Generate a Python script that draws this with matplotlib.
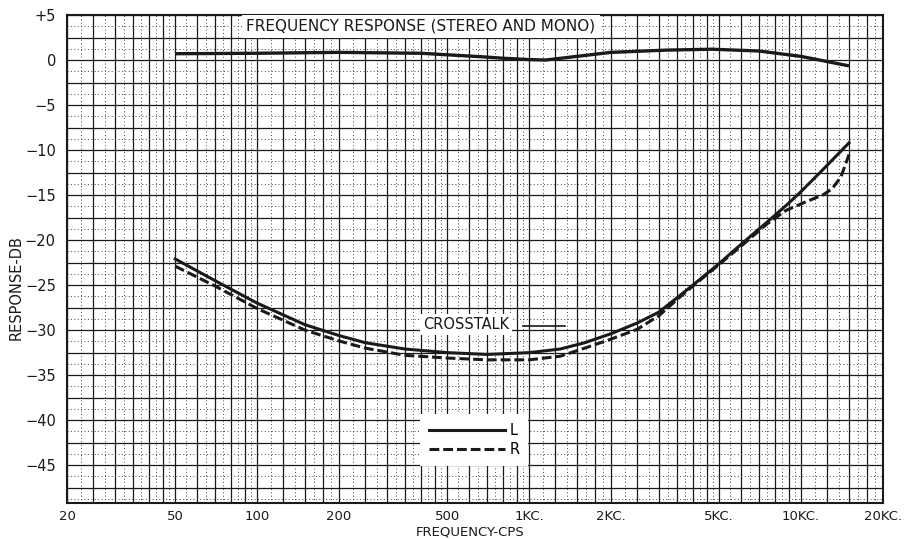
import numpy as np
import matplotlib
matplotlib.use('Agg')
import matplotlib.pyplot as plt

# ---------------- data ----------------
fr_freq = [50, 100, 200, 400, 680, 800, 1000, 1150, 1400, 2000, 3200, 4700, 7000, 10000, 15000]
fr_db = [0.7, 0.75, 0.85, 0.75, 0.35, 0.2, 0.05, 0.0, 0.3, 0.85, 1.1, 1.2, 1.0, 0.4, -0.65]

l_freq = [50, 70, 100, 150, 200, 250, 350, 500, 700, 1000, 1300, 1600, 2000, 2500, 3000,
          3500, 4000, 5000, 6000, 7500, 9000, 10000, 12000, 15000]
l_db = [-22.1, -24.5, -27.0, -29.4, -30.6, -31.4, -32.1, -32.5, -32.7, -32.5, -32.1, -31.4,
        -30.4, -29.2, -28.0, -26.4, -25.0, -22.6, -20.5, -18.0, -15.9, -14.6, -12.2, -9.2]

r_freq = [50, 70, 100, 150, 200, 250, 350, 500, 700, 1000, 1300, 1600, 2000, 2500, 3000,
          3500, 4000, 5000, 6000, 7500, 8800, 10500, 12000, 13000, 14000, 15000]
r_db = [-22.9, -25.1, -27.6, -30.0, -31.2, -32.0, -32.8, -33.1, -33.3, -33.3, -32.9, -32.0,
        -31.0, -29.9, -28.4, -26.6, -25.1, -22.7, -20.7, -18.2, -16.7, -15.7, -15.0, -14.3,
        -13.0, -10.5]

x_ticks = [20, 50, 100, 200, 500, 1000, 2000, 5000, 10000, 20000]
x_ticklabels = ['20', '50', '100', '200', '500', '1KC.', '2KC.', '5KC.', '10KC.', '20KC.']
y_ticks = [5, 0, -5, -10, -15, -20, -25, -30, -35, -40, -45]
y_ticklabels = ['+5', '0', '−5', '−10', '−15', '−20', '−25', '−30', '−35', '−40', '−45']

title_text = 'FREQUENCY RESPONSE (STEREO AND MONO)'
crosstalk_text = 'CROSSTALK'
xlabel_text = 'FREQUENCY-CPS'
ylabel_text = 'RESPONSE-DB'

# ---------------- figure ----------------
plt.rcParams['font.family'] = ['DejaVu Sans']
W, H = 924, 539
fig = plt.figure(figsize=(W / 100, H / 100), dpi=100)
ax = fig.add_axes([67 / W, 36 / H, 816 / W, 488 / H])
ax.set_xscale('log')
ax.set_xlim(20, 20000)
ax.set_ylim(-49.2, 5)

ink = '#1a1a1a'

# graph-paper grid
major_mult = [1, 1.25, 1.5, 1.75, 2, 2.5, 3, 3.5, 4, 4.5, 5, 6, 7, 8, 9]
for dec in [10, 100, 1000, 10000]:
    for i, m in enumerate(major_mult):
        f = m * dec
        if 20 <= f <= 20000:
            ax.axvline(f, color=ink, lw=0.9, zorder=0)
        nxt = major_mult[i + 1] if i + 1 < len(major_mult) else 10
        fm = 0.5 * (m + nxt) * dec
        if 20 < fm < 20000:
            ax.axvline(fm, color='#444444', lw=0.7, ls=(0, (1, 2.5)), zorder=0)
for y in np.arange(5, -50, -2.5):
    ax.axhline(y, color=ink, lw=0.9, zorder=0)
for y in np.arange(3.75, -50, -2.5):
    ax.axhline(y, color='#444444', lw=0.7, ls=(0, (1, 2.5)), zorder=0)

# curves
ax.plot(fr_freq, fr_db, color=ink, lw=2.4, solid_capstyle='butt', zorder=3)
hl, = ax.plot(l_freq, l_db, color=ink, lw=2.2, zorder=3, label='L')
hr, = ax.plot(r_freq, r_db, color=ink, lw=2.2, ls=(0, (3.2, 1.3)), zorder=3, label='R')

# annotations
ax.text(400, 3.75, title_text, ha='center', va='center', fontsize=11, color=ink,
        bbox=dict(facecolor='white', edgecolor='none', pad=3), zorder=4)
ax.text(586, -29.4, crosstalk_text, ha='center', va='center', fontsize=10.5, color=ink,
        bbox=dict(facecolor='white', edgecolor='none', pad=2), zorder=4)
ax.plot([950, 1350], [-29.5, -29.5], color=ink, lw=1.2, zorder=4)

leg = ax.legend(handles=[hl, hr], loc='center', bbox_to_anchor=(0.499, 0.129),
                frameon=True, fancybox=False, handlelength=5.2, handletextpad=0.3,
                borderpad=0.6, labelspacing=0.3, fontsize=10.5)
leg.get_frame().set_facecolor('white')
leg.get_frame().set_edgecolor('none')
leg.get_frame().set_alpha(1)
leg.set_zorder(5)

# axes
ax.set_xticks(x_ticks)
ax.set_xticklabels(x_ticklabels)
ax.set_xticks([], minor=True)
ax.set_yticks(y_ticks)
ax.set_yticklabels(y_ticklabels)
ax.tick_params(axis='both', length=0, colors=ink)
ax.tick_params(axis='x', pad=5, labelsize=9.5)
ax.tick_params(axis='y', pad=8, labelsize=10.5)
for s in ax.spines.values():
    s.set_linewidth(1.5)
    s.set_color(ink)

fig.text(470 / W, 1 - 532 / H, xlabel_text, ha='center', va='center', fontsize=9.5, color=ink)
fig.text(16 / W, 1 - 288 / H, ylabel_text, ha='center', va='center', rotation=90,
         fontsize=10.5, color=ink)

fig.savefig('out.png', dpi=100, facecolor='white')
